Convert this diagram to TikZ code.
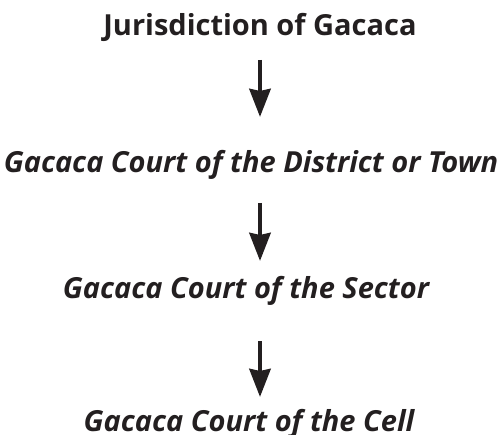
\documentclass[tikz,border=0pt]{standalone}
\usepackage{fontspec}
\setmainfont{Open Sans}
\usetikzlibrary{arrows.meta}
\definecolor{ink}{HTML}{231F20}
\tikzset{
  level/.style={anchor=base, inner sep=0pt, text=ink, font=\fontsize{29pt}{33pt}\selectfont\bfseries},
  court/.style={level, font=\fontsize{29pt}{33pt}\selectfont\bfseries\itshape},
  arr/.style={draw=ink, line width=4.6pt, -{Stealth[length=28pt, width=21pt, inset=2pt]}}
}
\begin{document}
\begin{tikzpicture}[x=1pt, y=1pt]
  \useasboundingbox (0,0) rectangle (502,-435);
  \node[level] (juris) at (260,-36) {Jurisdiction of Gacaca};
  \node[court] (district) at (251,-173) {Gacaca Court of the District or Town};
  \node[court] (sector) at (246,-298) {Gacaca Court of the Sector};
  \node[court] (cell) at (249,-431.5) {Gacaca Court of the Cell};
  \draw[arr] ([yshift=-24pt]juris.base) -- ++(0,-57);
  \draw[arr] ([xshift=9pt, yshift=-30pt]district.base) -- ++(0,-58);
  \draw[arr] ([xshift=14pt, yshift=-43pt]sector.base) -- ++(0,-56);
\end{tikzpicture}
\end{document}
